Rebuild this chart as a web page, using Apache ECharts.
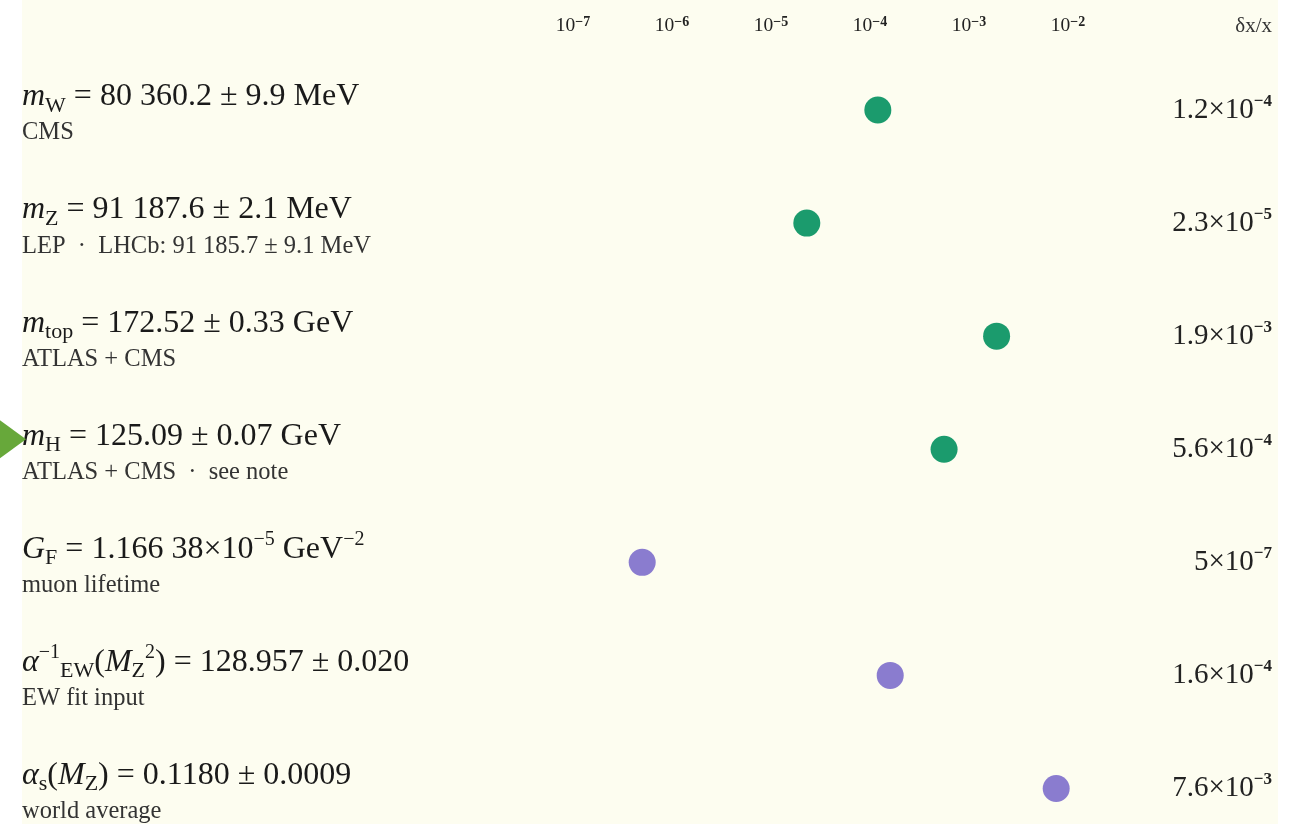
<!DOCTYPE html>
<html>
<head>
<meta charset="utf-8">
<script src="https://cdn.jsdelivr.net/npm/echarts@6/dist/echarts.min.js"></script>
<style>
html,body{margin:0;padding:0;background:#ffffff;}
#chart{width:1304px;height:824px;}
</style>
</head>
<body>
<div id="chart"></div>
<script>
// ---- data ----
const rowKeys = ['mW', 'mZ', 'mtop', 'mH', 'GF', 'alphaEW', 'alphaS'];
const mainLabels = [
  '{it|m}{sub|W}{n| = 80 360.2 ± 9.9 MeV}',
  '{it|m}{sub|Z}{n| = 91 187.6 ± 2.1 MeV}',
  '{it|m}{sub|top}{n| = 172.52 ± 0.33 GeV}',
  '{it|m}{sub|H}{n| = 125.09 ± 0.07 GeV}',
  '{it|G}{sub|F}{n| = 1.166 38×10}{sup|−5}{n| GeV}{sup|−2}',
  '{it|α}{sup|−1}{sub|EW}{n|(}{it|M}{sub|Z}{sup|2}{n|) = 128.957 ± 0.020}',
  '{it|α}{sub|s}{n|(}{it|M}{sub|Z}{n|) = 0.1180 ± 0.0009}'
];
const subLabels = [
  'CMS',
  'LEP  ·  LHCb: 91 185.7 ± 9.1 MeV',
  'ATLAS + CMS',
  'ATLAS + CMS  ·  see note',
  'muon lifetime',
  'EW fit input',
  'world average'
];
const relPrecision = [1.2e-4, 2.3e-5, 1.9e-3, 5.6e-4, 5e-7, 1.6e-4, 7.6e-3];
const groups = ['mass', 'mass', 'mass', 'mass', 'coupling', 'coupling', 'coupling'];
const tickExponents = [-7, -6, -5, -4, -3, -2];
const headerText = 'δx/x';
const highlightRow = 3;

// ---- chart ----
const SERIF = '"Liberation Serif", "DejaVu Serif", serif';
const GREEN = '#1b9b6d';
const PURPLE = '#8a7ccf';

function fmtPrecision(v) {
  const e = Math.floor(Math.log10(v) + 1e-9);
  const m = parseFloat((v / Math.pow(10, e)).toPrecision(2));
  return (m === 1 ? '' : '{n|' + m + '×10}') + '{sup|−' + Math.abs(e) + '}';
}

const chart = echarts.init(document.getElementById('chart'), null, {renderer: 'canvas'});

function seriesFor(g, color) {
  return {
    type: 'scatter',
    name: g,
    symbol: 'circle',
    symbolSize: 27,
    itemStyle: {color: color, opacity: 1},
    data: relPrecision.map((v, i) => groups[i] === g ? [v, rowKeys[i]] : null).filter(d => d)
  };
}

const mainRich = {
  it: {fontFamily: SERIF, fontStyle: 'italic', fontSize: 32, lineHeight: 40, color: '#1a1a1a'},
  n: {fontFamily: SERIF, fontSize: 32, lineHeight: 40, color: '#1a1a1a'},
  sub: {fontFamily: SERIF, fontSize: 22, lineHeight: 25, verticalAlign: 'bottom', color: '#1a1a1a'},
  sup: {fontFamily: SERIF, fontSize: 20, lineHeight: 26, verticalAlign: 'top', color: '#1a1a1a'},
  s: {fontFamily: SERIF, fontSize: 24.5, lineHeight: 32, color: '#333333'}
};

const bgRect = {
  type: 'rect', z: -10, silent: true,
  shape: {x: 22, y: 0, width: 1256, height: 824},
  style: {fill: '#fdfdf0'}
};

const option = {
  backgroundColor: 'transparent',
  animation: false,
  title: {
    text: headerText,
    right: 27,
    top: 11,
    textStyle: {fontFamily: SERIF, fontSize: 21, fontWeight: 'normal', color: '#333333'}
  },
  graphic: [bgRect],
  grid: {left: 573, right: 236, top: 110, bottom: 34},
  xAxis: {
    type: 'log',
    logBase: 10,
    position: 'top',
    min: Math.pow(10, tickExponents[0]),
    max: Math.pow(10, tickExponents[tickExponents.length - 1]),
    axisLine: {show: false},
    axisTick: {show: false},
    splitLine: {show: false},
    axisLabel: {
      margin: 73,
      formatter: function (v) {
        const e = Math.round(Math.log10(v));
        return '{b|10}{p|−' + Math.abs(e) + '}';
      },
      rich: {
        b: {fontFamily: SERIF, fontSize: 19.5, lineHeight: 22, color: '#222'},
        p: {fontFamily: SERIF, fontSize: 14, fontWeight: 'bold', lineHeight: 22, verticalAlign: 'top', color: '#222'}
      }
    }
  },
  yAxis: [{
    type: 'category',
    data: rowKeys,
    inverse: true,
    boundaryGap: false,
    axisLine: {show: false},
    axisTick: {show: false},
    splitLine: {show: false},
    axisLabel: {
      align: 'left',
      margin: 551,
      padding: [6, 0, 0, 0],
      formatter: function (v, i) {
        return mainLabels[i] + '\n{s|' + subLabels[i] + '}';
      },
      rich: mainRich
    }
  }, {
    type: 'category',
    data: rowKeys,
    inverse: true,
    boundaryGap: false,
    position: 'right',
    axisLine: {show: false},
    axisTick: {show: false},
    splitLine: {show: false},
    axisLabel: {
      align: 'right',
      margin: 204,
      formatter: function (v, i) { return fmtPrecision(relPrecision[i]); },
      rich: {
        n: {fontFamily: SERIF, fontSize: 29, lineHeight: 34, color: '#222'},
        sup: {fontFamily: SERIF, fontSize: 17, fontWeight: 'bold', lineHeight: 34, verticalAlign: 'top', color: '#222'}
      }
    }
  }],
  series: [seriesFor('mass', GREEN), seriesFor('coupling', PURPLE)]
};

chart.setOption(option);

// arrow marker pointing at the highlighted row
const py = chart.convertToPixel({yAxisIndex: 0}, rowKeys[highlightRow]);
const ay = py - 10;
chart.setOption({
  graphic: [bgRect, {
    type: 'polygon', z: 10, silent: true,
    shape: {points: [[0, ay - 19], [26, ay], [0, ay + 19]]},
    style: {fill: '#67a83a'}
  }]
});
</script>
</body>
</html>
